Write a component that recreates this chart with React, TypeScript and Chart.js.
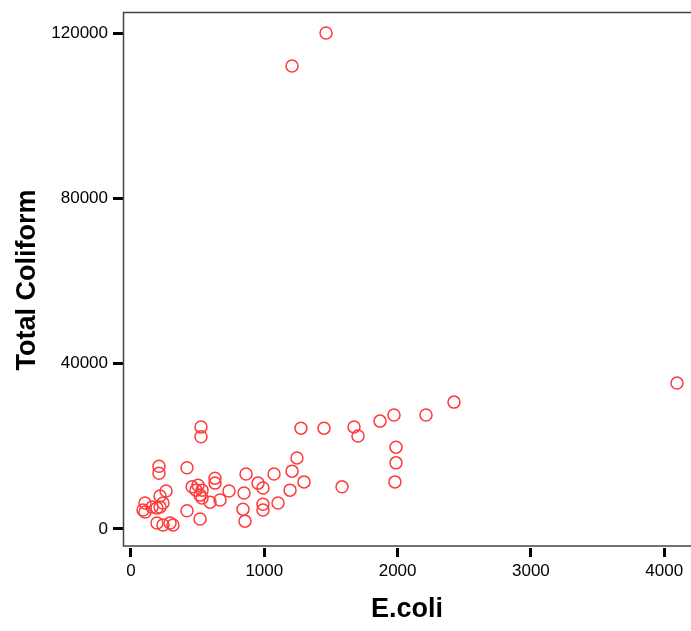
import React, { useEffect, useRef } from 'react';
import { Chart, registerables } from 'chart.js';

Chart.register(...registerables);

// E.coli (x) and Total Coliform (y) readings
const eColi = [
  1463, 1208, 4096, 2423, 2213, 1973, 1868, 1673, 1703, 1448,
  1275, 1245, 1208, 1193, 1298, 1073, 1103, 990, 990, 953,
  990, 863, 848, 840, 855, 735, 630, 630, 593, 668,
  458, 503, 533, 488, 518, 533, 518, 420, 420, 525,
  525, 210, 210, 263, 218, 105, 90, 105, 158, 195,
  218, 240, 195, 240, 293, 315, 1988, 1988, 1980, 1583,
];
const totalColiform = [
  120000, 112000, 35300, 30700, 27600, 27600, 26100, 24700, 22500, 24400,
  24400, 17200, 14000, 9400, 11400, 13300, 6300, 6000, 4600, 11100,
  9900, 13300, 8700, 4800, 1900, 9200, 12300, 11100, 6500, 7000,
  10200, 10600, 9400, 9400, 8200, 7500, 2400, 4400, 14800, 24700,
  22300, 15200, 13500, 9200, 8000, 6300, 4600, 4100, 5300, 5100,
  5300, 6300, 1450, 970, 1450, 970, 19800, 16000, 11400, 10200,
];
const xTickValues = [0, 1000, 2000, 3000, 4000];
const yTickValues = [0, 40000, 80000, 120000];
const xTitle = 'E.coli';
const yTitle = 'Total Coliform';

const framePlugin = {
  id: 'frame',
  afterDraw(chart: any) {
    const { ctx, chartArea } = chart;
    const { left, right, top, bottom } = chartArea;
    ctx.save();
    ctx.strokeStyle = '#444';
    ctx.lineWidth = 1.5;
    ctx.beginPath();
    ctx.moveTo(right + 5, top + 0.5);
    ctx.lineTo(left + 0.5, top + 0.5);
    ctx.lineTo(left + 0.5, bottom - 2);
    ctx.lineTo(right + 5, bottom - 2);
    ctx.stroke();
    ctx.restore();
  },
};

export default function App() {
  const ref = useRef<HTMLCanvasElement | null>(null);

  useEffect(() => {
    document.body.style.margin = '0';
    const canvas = ref.current;
    if (!canvas) return;
    const tickFont = { family: '"Liberation Sans", Arial, sans-serif', size: 17 };
    const titleFont = { family: '"Liberation Sans", Arial, sans-serif', size: 27, weight: 'bold' as const };
    const chart = new Chart(canvas, {
      type: 'scatter',
      data: {
        datasets: [
          {
            data: eColi.map((x, i) => ({ x, y: totalColiform[i] })),
            pointRadius: 6,
            pointHoverRadius: 6,
            pointBorderWidth: 1.5,
            borderColor: '#ff3a3a',
            backgroundColor: 'rgba(0,0,0,0)',
            pointStyle: 'circle',
          },
        ],
      },
      options: {
        animation: false,
        responsive: false,
        devicePixelRatio: 1,
        layout: { autoPadding: false, padding: { top: 12, right: 0, left: 0, bottom: 0 } },
        plugins: {
          legend: { display: false },
          tooltip: { enabled: false },
        },
        events: [],
        scales: {
          x: {
            type: 'linear',
            min: -60,
            max: 4201,
            afterBuildTicks: (s: any) => {
              s.ticks = xTickValues.map((v) => ({ value: v }));
            },
            afterFit: (s: any) => {
              s.height = 83;
              s.paddingLeft = 0;
              s.paddingRight = 0;
            },
            ticks: {
              font: tickFont,
              color: '#000',
              padding: 4,
              maxRotation: 0,
              autoSkip: false,
              callback: (v: any) => String(v),
            },
            grid: {
              display: true,
              drawOnChartArea: false,
              drawTicks: true,
              tickLength: 9,
              tickWidth: 3,
              tickColor: '#000',
            },
            border: { display: false },
            title: {
              display: true,
              text: xTitle,
              color: '#000',
              font: titleFont,
              padding: { top: 0, bottom: 5 },
            },
          },
          y: {
            type: 'linear',
            min: -4597,
            max: 125083,
            afterBuildTicks: (s: any) => {
              s.ticks = yTickValues.map((v) => ({ value: v }));
            },
            afterFit: (s: any) => {
              s.width = 123;
              s.paddingTop = 0;
              s.paddingBottom = 0;
            },
            ticks: {
              font: tickFont,
              color: '#000',
              padding: 5,
              autoSkip: false,
              callback: (v: any) => String(v),
            },
            grid: {
              display: true,
              drawOnChartArea: false,
              drawTicks: true,
              tickLength: 10,
              tickWidth: 3,
              tickColor: '#000',
            },
            border: { display: false },
            title: {
              display: true,
              text: yTitle,
              color: '#000',
              font: titleFont,
              padding: { top: 11, bottom: 0 },
            },
          },
        },
      },
      plugins: [framePlugin],
    });
    return () => chart.destroy();
  }, []);

  return (
    <div style={{ width: 691, height: 631, background: '#fff' }}>
      <canvas ref={ref} width={691} height={631} style={{ display: 'block' }} />
    </div>
  );
}
